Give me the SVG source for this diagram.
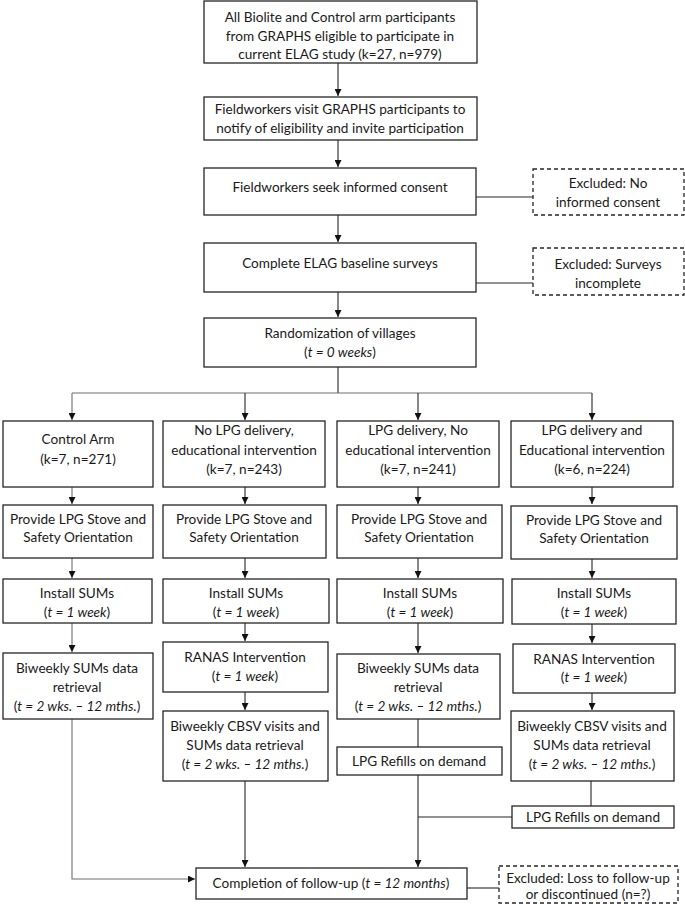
<svg xmlns="http://www.w3.org/2000/svg" width="685" height="904" viewBox="0 0 685 904">
<style>
  .box{fill:#fff;stroke:#262626;stroke-width:1.3}
  .dash{fill:#fff;stroke:#262626;stroke-width:1.3;stroke-dasharray:4 3}
  .t{font-family:Lato,"Noto Sans",sans-serif;font-size:13.6px;fill:#1a1a1a;text-anchor:middle}
  .i{font-style:italic}
  .c{fill:none;stroke:#262626;stroke-width:1.1}
  .g{fill:none;stroke:#6e6e6e;stroke-width:1.1}
</style>
<defs>
  <marker id="a" viewBox="0 0 10 10" refX="10" refY="5" markerWidth="7" markerHeight="7" markerUnits="userSpaceOnUse" orient="auto">
    <path d="M0,0 L10,5 L0,10 Z" fill="#111"/>
  </marker>
</defs>
<rect width="685" height="904" fill="#fff"/>

<g id="connectors">
  <path class="c" d="M338,63 V96" marker-end="url(#a)"/>
  <path class="c" d="M338,140 V167" marker-end="url(#a)"/>
  <path class="c" d="M338,215 V242" marker-end="url(#a)"/>
  <path class="c" d="M338,292 V317" marker-end="url(#a)"/>
  <path class="c" d="M338,367 V393"/>
  <path class="c" d="M476,197 H533"/>
  <path class="c" d="M476,283 H533"/>
  <path class="g" d="M72,393 H592"/>
  <path class="g" d="M72,393 V420" marker-end="url(#a)"/>
  <path class="c" d="M245,393 V420" marker-end="url(#a)"/>
  <path class="c" d="M418,393 V420" marker-end="url(#a)"/>
  <path class="c" d="M592,393 V420" marker-end="url(#a)"/>
  <path class="g" d="M72,487 V504" marker-end="url(#a)"/>
  <path class="c" d="M245,487 V504" marker-end="url(#a)"/>
  <path class="c" d="M418,487 V504" marker-end="url(#a)"/>
  <path class="c" d="M592,487 V504" marker-end="url(#a)"/>
  <path class="g" d="M72,558 V578" marker-end="url(#a)"/>
  <path class="c" d="M245,558 V578" marker-end="url(#a)"/>
  <path class="c" d="M418,558 V578" marker-end="url(#a)"/>
  <path class="c" d="M592,559 V578" marker-end="url(#a)"/>
  <path class="g" d="M72,623 V652" marker-end="url(#a)"/>
  <path class="c" d="M245,623 V641" marker-end="url(#a)"/>
  <path class="c" d="M418,623 V653" marker-end="url(#a)"/>
  <path class="c" d="M592,624 V643" marker-end="url(#a)"/>
  <path class="c" d="M245,692 V710" marker-end="url(#a)"/>
  <path class="c" d="M592,693 V710" marker-end="url(#a)"/>
  <path class="c" d="M418,719 V747"/>
  <path class="g" d="M72,719 V879 H195" marker-end="url(#a)"/>
  <path class="c" d="M245,781 V867" marker-end="url(#a)"/>
  <path class="c" d="M418,775 V867" marker-end="url(#a)"/>
  <path class="c" d="M591,781 V806"/>
  <path class="c" d="M512,817 H418"/>
  <path class="c" d="M467,888 H499"/>
</g>

<g id="n1"><rect class="box" x="204" y="1" width="273" height="62"/>
  <text class="t" x="340" y="22">All Biolite and Control arm participants</text>
  <text class="t" x="340" y="41">from GRAPHS eligible to participate in</text>
  <text class="t" x="340" y="59">current ELAG study (k=27, n=979)</text></g>
<g id="n2"><rect class="box" x="204" y="97" width="273" height="43"/>
  <text class="t" x="340" y="114">Fieldworkers visit GRAPHS participants to</text>
  <text class="t" x="340" y="133">notify of eligibility and invite participation</text></g>
<g id="n3"><rect class="box" x="204" y="168" width="272" height="47"/>
  <text class="t" x="340" y="192">Fieldworkers seek informed consent</text></g>
<g id="x1"><rect class="dash" x="533" y="169" width="151" height="46"/>
  <text class="t" x="608" y="188">Excluded: No</text>
  <text class="t" x="608" y="207">informed consent</text></g>
<g id="n4"><rect class="box" x="204" y="243" width="272" height="49"/>
  <text class="t" x="340" y="268">Complete ELAG baseline surveys</text></g>
<g id="x2"><rect class="dash" x="533" y="248" width="151" height="47"/>
  <text class="t" x="608" y="269">Excluded: Surveys</text>
  <text class="t" x="608" y="288">incomplete</text></g>
<g id="n5"><rect class="box" x="204" y="318" width="272" height="49"/>
  <text class="t" x="340" y="338">Randomization of villages</text>
  <text class="t" x="340" y="357">(<tspan class="i">t = 0 weeks</tspan>)</text></g>

<g id="c1h"><rect class="box" x="3" y="421" width="150" height="66"/>
  <text class="t" x="78" y="444">Control Arm</text>
  <text class="t" x="78" y="464">(k=7, n=271)</text></g>
<g id="c2h"><rect class="box" x="163" y="421" width="162" height="66"/>
  <text class="t" x="244" y="435">No LPG delivery,</text>
  <text class="t" x="244" y="455">educational intervention</text>
  <text class="t" x="244" y="474">(k=7, n=243)</text></g>
<g id="c3h"><rect class="box" x="337" y="421" width="162" height="66"/>
  <text class="t" x="418" y="435">LPG delivery, No</text>
  <text class="t" x="418" y="455">educational intervention</text>
  <text class="t" x="418" y="474">(k=7, n=241)</text></g>
<g id="c4h"><rect class="box" x="511" y="421" width="162" height="66"/>
  <text class="t" x="592" y="435">LPG delivery and</text>
  <text class="t" x="592" y="455">Educational intervention</text>
  <text class="t" x="592" y="474">(k=6, n=224)</text></g>

<g id="c1p"><rect class="box" x="3" y="505" width="150" height="53"/>
  <text class="t" x="78" y="524">Provide LPG Stove and</text>
  <text class="t" x="78" y="542">Safety Orientation</text></g>
<g id="c2p"><rect class="box" x="163" y="505" width="163" height="53"/>
  <text class="t" x="244" y="524">Provide LPG Stove and</text>
  <text class="t" x="244" y="542">Safety Orientation</text></g>
<g id="c3p"><rect class="box" x="337" y="505" width="165" height="53"/>
  <text class="t" x="419" y="524">Provide LPG Stove and</text>
  <text class="t" x="419" y="542">Safety Orientation</text></g>
<g id="c4p"><rect class="box" x="511" y="506" width="166" height="53"/>
  <text class="t" x="594" y="525">Provide LPG Stove and</text>
  <text class="t" x="594" y="543">Safety Orientation</text></g>

<g id="c1i"><rect class="box" x="3" y="579" width="149" height="44"/>
  <text class="t" x="77" y="598">Install SUMs</text>
  <text class="t" x="77" y="617">(<tspan class="i">t = 1 week</tspan>)</text></g>
<g id="c2i"><rect class="box" x="163" y="579" width="166" height="44"/>
  <text class="t" x="246" y="598">Install SUMs</text>
  <text class="t" x="246" y="617">(<tspan class="i">t = 1 week</tspan>)</text></g>
<g id="c3i"><rect class="box" x="337" y="579" width="166" height="44"/>
  <text class="t" x="420" y="598">Install SUMs</text>
  <text class="t" x="420" y="617">(<tspan class="i">t = 1 week</tspan>)</text></g>
<g id="c4i"><rect class="box" x="512" y="579" width="164" height="45"/>
  <text class="t" x="594" y="598">Install SUMs</text>
  <text class="t" x="594" y="617">(<tspan class="i">t = 1 week</tspan>)</text></g>

<g id="c1b"><rect class="box" x="3" y="653" width="150" height="66"/>
  <text class="t" x="77" y="673">Biweekly SUMs data</text>
  <text class="t" x="77" y="692">retrieval</text>
  <text class="t" x="77" y="711">(<tspan class="i">t = 2 wks. – 12 mths.</tspan>)</text></g>
<g id="c2r"><rect class="box" x="163" y="642" width="165" height="50"/>
  <text class="t" x="245" y="662">RANAS Intervention</text>
  <text class="t" x="245" y="681">(<tspan class="i">t = 1 week</tspan>)</text></g>
<g id="c2b"><rect class="box" x="163" y="711" width="165" height="70"/>
  <text class="t" x="245" y="731">Biweekly CBSV visits and</text>
  <text class="t" x="245" y="750">SUMs data retrieval</text>
  <text class="t" x="245" y="769">(<tspan class="i">t = 2 wks. – 12 mths.</tspan>)</text></g>
<g id="c3b"><rect class="box" x="337" y="654" width="163" height="65"/>
  <text class="t" x="418" y="673">Biweekly SUMs data</text>
  <text class="t" x="418" y="692">retrieval</text>
  <text class="t" x="418" y="711">(<tspan class="i">t = 2 wks. – 12 mths.</tspan>)</text></g>
<g id="c3l"><rect class="box" x="337" y="747" width="165" height="28"/>
  <text class="t" x="419" y="766">LPG Refills on demand</text></g>
<g id="c4r"><rect class="box" x="513" y="644" width="162" height="49"/>
  <text class="t" x="594" y="664">RANAS Intervention</text>
  <text class="t" x="594" y="682">(<tspan class="i">t = 1 week</tspan>)</text></g>
<g id="c4b"><rect class="box" x="511" y="711" width="163" height="70"/>
  <text class="t" x="592" y="731">Biweekly CBSV visits and</text>
  <text class="t" x="592" y="750">SUMs data retrieval</text>
  <text class="t" x="592" y="769">(<tspan class="i">t = 2 wks. – 12 mths.</tspan>)</text></g>
<g id="c4l"><rect class="box" x="512" y="806" width="162" height="22"/>
  <text class="t" x="593" y="822">LPG Refills on demand</text></g>

<g id="fin"><rect class="box" x="196" y="868" width="271" height="31"/>
  <text class="t" x="331" y="888">Completion of follow-up (<tspan class="i">t = 12 months</tspan>)</text></g>
<g id="x3"><rect class="dash" x="499" y="866" width="179" height="37"/>
  <text class="t" x="588" y="883">Excluded: Loss to follow-up</text>
  <text class="t" x="588" y="899">or discontinued (n=?)</text></g>
</svg>
